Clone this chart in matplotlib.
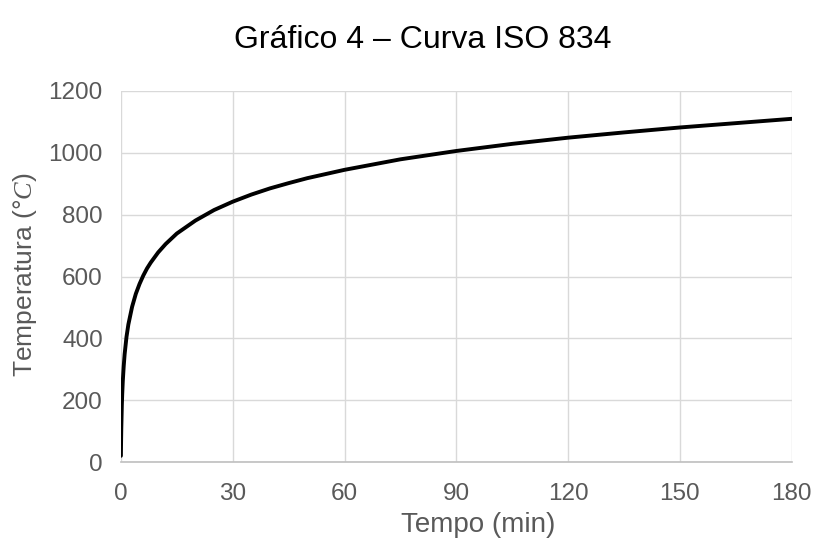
import matplotlib
matplotlib.use("Agg")
import matplotlib.pyplot as plt

# ISO 834 curve values (time in min, temperature in °C)
tempo = [0, 0.02, 0.05, 0.1, 0.25, 0.35, 0.5, 0.75, 1, 1.5, 2, 3, 4, 5, 6, 7, 8, 10,
         12, 15, 20, 25, 30, 35, 40, 45, 50, 60, 75, 90, 105, 120, 135, 150, 165, 180]
temperatura = [20, 42, 70, 108, 185, 220, 261, 310, 349, 405, 445, 502, 544, 576,
               603, 626, 645, 678, 705, 739, 781, 815, 842, 865, 885, 902, 918, 945,
               979, 1006, 1029, 1049, 1066, 1082, 1096, 1110]

x_ticks = [0, 30, 60, 90, 120, 150, 180]
y_ticks = [0, 200, 400, 600, 800, 1000, 1200]

plt.rcParams['font.family'] = ['Liberation Sans', 'DejaVu Sans']
plt.rcParams['mathtext.fontset'] = 'custom'
plt.rcParams['mathtext.it'] = 'Liberation Serif:italic'

fig = plt.figure(figsize=(8.17, 5.40), dpi=100)
ax = fig.add_axes([0.148, 0.1444, 0.821, 0.6871])

ax.plot(tempo, temperatura, color='black', linewidth=2.8, solid_capstyle='round',
        solid_joinstyle='round', zorder=3)

ax.set_xlim(0, 180)
ax.set_ylim(0, 1200)
ax.set_xticks(x_ticks)
ax.set_yticks(y_ticks)
ax.grid(True, color='#d9d9d9', linewidth=1.0)
ax.set_axisbelow(True)
for s in ['top', 'right', 'left']:
    ax.spines[s].set_visible(False)
ax.spines['bottom'].set_color('#bfbfbf')
ax.spines['bottom'].set_linewidth(1.2)
ax.tick_params(axis='x', length=0, labelsize=17.5, labelcolor='#595959', pad=15)
ax.tick_params(axis='y', length=0, labelsize=17.5, labelcolor='#595959', pad=13)

ax.set_xlabel('Tempo (min)', fontsize=20, color='#595959')
ax.xaxis.set_label_coords(0.533, -0.135)
fig.text(25 / 817, 0.491, 'Temperatura (°$C$)', fontsize=19, color='#595959',
         rotation=90, ha='center', va='center')
fig.suptitle('Gráfico 4 – Curva ISO 834', fontsize=23, color='black', x=0.518, y=0.953)

fig.savefig('out.png', dpi=100, facecolor='white')
